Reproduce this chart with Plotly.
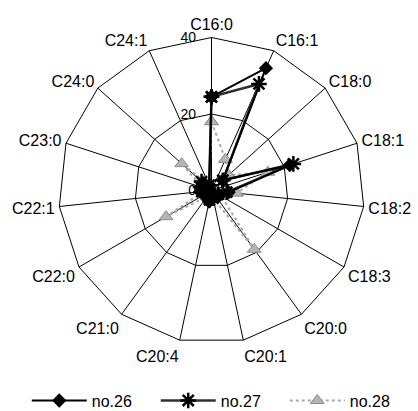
import plotly.graph_objects as go

# Fatty acid composition (%) of three samples
categories = ["C16:0", "C16:1", "C18:0", "C18:1", "C18:2", "C18:3", "C20:0",
              "C20:1", "C20:4", "C21:0", "C22:0", "C22:1", "C23:0", "C24:0", "C24:1"]

no26 = [24.5, 35.0, 4.0, 21.5, 4.5, 2.5, 1.5, 2.0, 3.0, 1.0, 1.5, 3.0, 3.0, 3.0, 1.5]
no27 = [24.5, 30.5, 4.0, 22.5, 4.0, 2.0, 1.5, 2.0, 2.5, 1.0, 1.5, 2.5, 3.0, 3.5, 1.5]
no28 = [18.0, 8.9, 6.0, 15.5, 6.6, 3.0, 19.0, 2.0, 2.5, 2.0, 13.7, 2.0, 2.5, 10.5, 1.5]

radial_ticks = [0, 20, 40]

def closed(values):
    return values + values[:1]

theta = closed(categories)

fig = go.Figure()
fig.add_trace(go.Scatterpolar(
    r=closed(no28), theta=theta, name="no.28", mode="lines+markers",
    line=dict(color="#a8a8a8", width=2, dash="dot"),
    marker=dict(symbol="triangle-up", size=12, color="#b4b4b4",
                line=dict(color="#8c8c8c", width=1)),
))
fig.add_trace(go.Scatterpolar(
    r=closed(no27), theta=theta, name="no.27", mode="lines+markers",
    line=dict(color="#303030", width=2.5),
    marker=dict(symbol="asterisk-open", size=13, color="black",
                line=dict(color="black", width=2.5)),
))
fig.add_trace(go.Scatterpolar(
    r=closed(no26), theta=theta, name="no.26", mode="lines+markers",
    line=dict(color="black", width=2),
    marker=dict(symbol="diamond", size=11, color="black"),
))

fig.update_layout(
    width=418, height=411,
    margin=dict(l=0, r=0, t=0, b=0, autoexpand=False),
    paper_bgcolor="white",
    font=dict(family="Liberation Sans, Arial, sans-serif", color="black", size=16),
    polar=dict(
        domain=dict(x=[(211.5 - 153) / 418, (211.5 + 153) / 418],
                    y=[1 - 343.5 / 411, 1 - 37.5 / 411]),
        bgcolor="white",
        gridshape="linear",
        radialaxis=dict(
            range=[0, 40], tickvals=radial_ticks, ticktext=[str(v) for v in radial_ticks],
            angle=90, tickangle=90, side="counterclockwise",
            showline=False, ticks="outside", ticklen=10, tickcolor="rgba(0,0,0,0)",
            gridcolor="black", gridwidth=1,
            tickfont=dict(size=14, color="black"),
        ),
        angularaxis=dict(
            direction="clockwise", rotation=90,
            showline=True, linecolor="black", linewidth=1,
            gridcolor="black", gridwidth=1,
            ticks="outside", ticklen=1, tickcolor="rgba(0,0,0,0)",
            tickfont=dict(size=16, color="black"),
        ),
    ),
    legend=dict(
        orientation="h", traceorder="reversed",
        x=0.064, xanchor="left", y=-0.016, yanchor="bottom",
        entrywidth=59, entrywidthmode="pixels", itemwidth=55,
        font=dict(size=16, color="black"),
        bgcolor="rgba(0,0,0,0)",
    ),
    showlegend=True,
)

fig.write_html("out.html")
